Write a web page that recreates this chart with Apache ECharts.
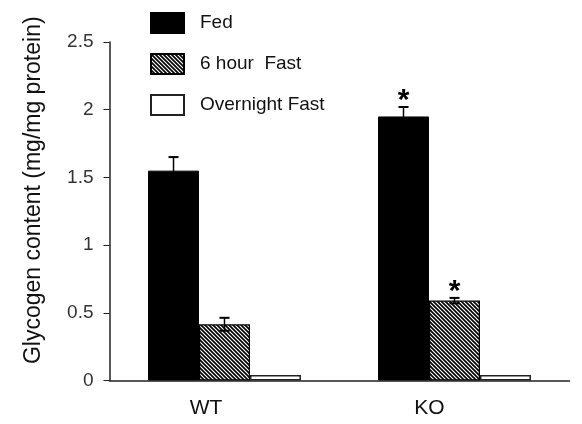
<!DOCTYPE html>
<html>
<head>
<meta charset="utf-8">
<script src="https://cdn.jsdelivr.net/npm/echarts@6/dist/echarts.min.js"></script>
<style>html,body{margin:0;padding:0;background:#fff;}#c{width:582px;height:424px;}</style>
</head>
<body>
<div id="c"></div>
<script>
const categories = ['WT', 'KO'];
const seriesNames = ['Fed', '6 hour  Fast', 'Overnight Fast'];
const fedValues = [1.55, 1.95];
const fedErrors = [0.10, 0.07];
const fastValues = [0.415, 0.59];
const fastErrors = [0.048, 0.02];
const overnightValues = [0.04, 0.04];
const overnightErrors = [0, 0];
const fedSig = ['', '*'];
const fastSig = ['', '*'];
const overnightSig = ['', ''];
const yTicks = [0, 0.5, 1, 1.5, 2, 2.5];

function hatch() {
  const s = 4;
  const c = document.createElement('canvas');
  c.width = s; c.height = s;
  const g = c.getContext('2d');
  g.fillStyle = '#fff'; g.fillRect(0, 0, s, s);
  g.strokeStyle = '#000'; g.lineWidth = 1.7;
  for (let k = -1; k <= 1; k++) {
    g.beginPath();
    g.moveTo(k * s - 1, -1);
    g.lineTo(k * s + s + 1, s + 1);
    g.stroke();
  }
  return c;
}

const GAP = 0.335;
function errSeries(k, vals, errs, sig) {
  return {
    type: 'custom',
    z: 5,
    silent: true,
    data: vals.map((v, i) => [i, v, errs[i]]),
    renderItem: function (params, api) {
      const i = api.value(0), v = api.value(1), e = api.value(2);
      const s = sig[i];
      const band = api.size([1, 0])[0];
      const bw = band * (1 - GAP) / 3;
      const p = api.coord([i, v]);
      const x = p[0] + (k - 1) * bw;
      const top = api.coord([i, v + e])[1];
      const bot = api.coord([i, v - e])[1];
      const children = [];
      if (e > 0) {
        const cw = 5;
        children.push({ type: 'line', shape: { x1: x, y1: top, x2: x, y2: bot }, style: { stroke: '#000', lineWidth: 1.5 } });
        children.push({ type: 'line', shape: { x1: x - cw, y1: top, x2: x + cw, y2: top }, style: { stroke: '#000', lineWidth: 2 } });
        children.push({ type: 'line', shape: { x1: x - cw, y1: bot, x2: x + cw, y2: bot }, style: { stroke: '#000', lineWidth: 2 } });
      }
      if (s) {
        children.push({ type: 'text', style: { text: s, x: x, y: top - 6, align: 'center', verticalAlign: 'middle', font: 'bold 30px "Liberation Sans", Arial, sans-serif', fill: '#000' } });
      }
      return { type: 'group', children: children };
    }
  };
}

const chart = echarts.init(document.getElementById('c'), null, { renderer: 'canvas' });
const pattern = { image: hatch(), repeat: 'repeat' };
const font = '"Liberation Sans", Arial, sans-serif';
chart.setOption({
  animation: false,
  backgroundColor: '#fff',
  grid: { left: 109.5, right: 12.5, top: 42, bottom: 43.5 },
  legend: {
    orient: 'vertical', left: 145, top: 7,
    icon: 'rect',
    itemWidth: 33, itemHeight: 20, itemGap: 19,
    data: seriesNames,
    textStyle: { fontFamily: font, fontSize: 19, color: '#111', padding: [0, 0, 0, 11] }
  },
  xAxis: {
    type: 'category', data: categories,
    axisLine: { lineStyle: { color: '#222', width: 1.5 } },
    axisTick: { show: false },
    axisLabel: {
      fontFamily: font, fontSize: 21, color: '#111', margin: 17,
      formatter: (v, i) => '{c' + i + '|' + v + '}',
      rich: {
        c0: { fontFamily: font, fontSize: 21, color: '#111', padding: [0, 37, 0, 0] },
        c1: { fontFamily: font, fontSize: 21, color: '#111', padding: [0, 50, 6, 0] }
      }
    }
  },
  yAxis: {
    type: 'value', min: 0, max: 2.5, interval: 0.5,
    splitLine: { show: false },
    axisLine: { show: true, lineStyle: { color: '#222', width: 1.5 } },
    axisTick: { show: true, inside: false, length: 6, lineStyle: { color: '#222' } },
    axisLabel: { fontFamily: font, fontSize: 19, color: '#333', margin: 16,
      formatter: v => yTicks.indexOf(v) >= 0 ? String(v) : '' },
    name: 'Glycogen content (mg/mg protein)',
    nameLocation: 'middle', nameGap: 64,
    nameTextStyle: { fontFamily: font, fontSize: 23, color: '#111', padding: [0, 0, 0, 42] }
  },
  series: [
    { name: seriesNames[0], type: 'bar', data: fedValues, barGap: '0%', barCategoryGap: (GAP * 100) + '%',
      itemStyle: { color: '#000', borderColor: '#000', borderWidth: 1 } },
    { name: seriesNames[1], type: 'bar', data: fastValues, barGap: '0%',
      itemStyle: { color: pattern, borderColor: '#000', borderWidth: 1.2 } },
    { name: seriesNames[2], type: 'bar', data: overnightValues, barGap: '0%',
      itemStyle: { color: '#fff', borderColor: '#222', borderWidth: 1.5 } },
    errSeries(0, fedValues, fedErrors, fedSig),
    errSeries(1, fastValues, fastErrors, fastSig),
    errSeries(2, overnightValues, overnightErrors, overnightSig)
  ]
});
</script>
</body>
</html>
